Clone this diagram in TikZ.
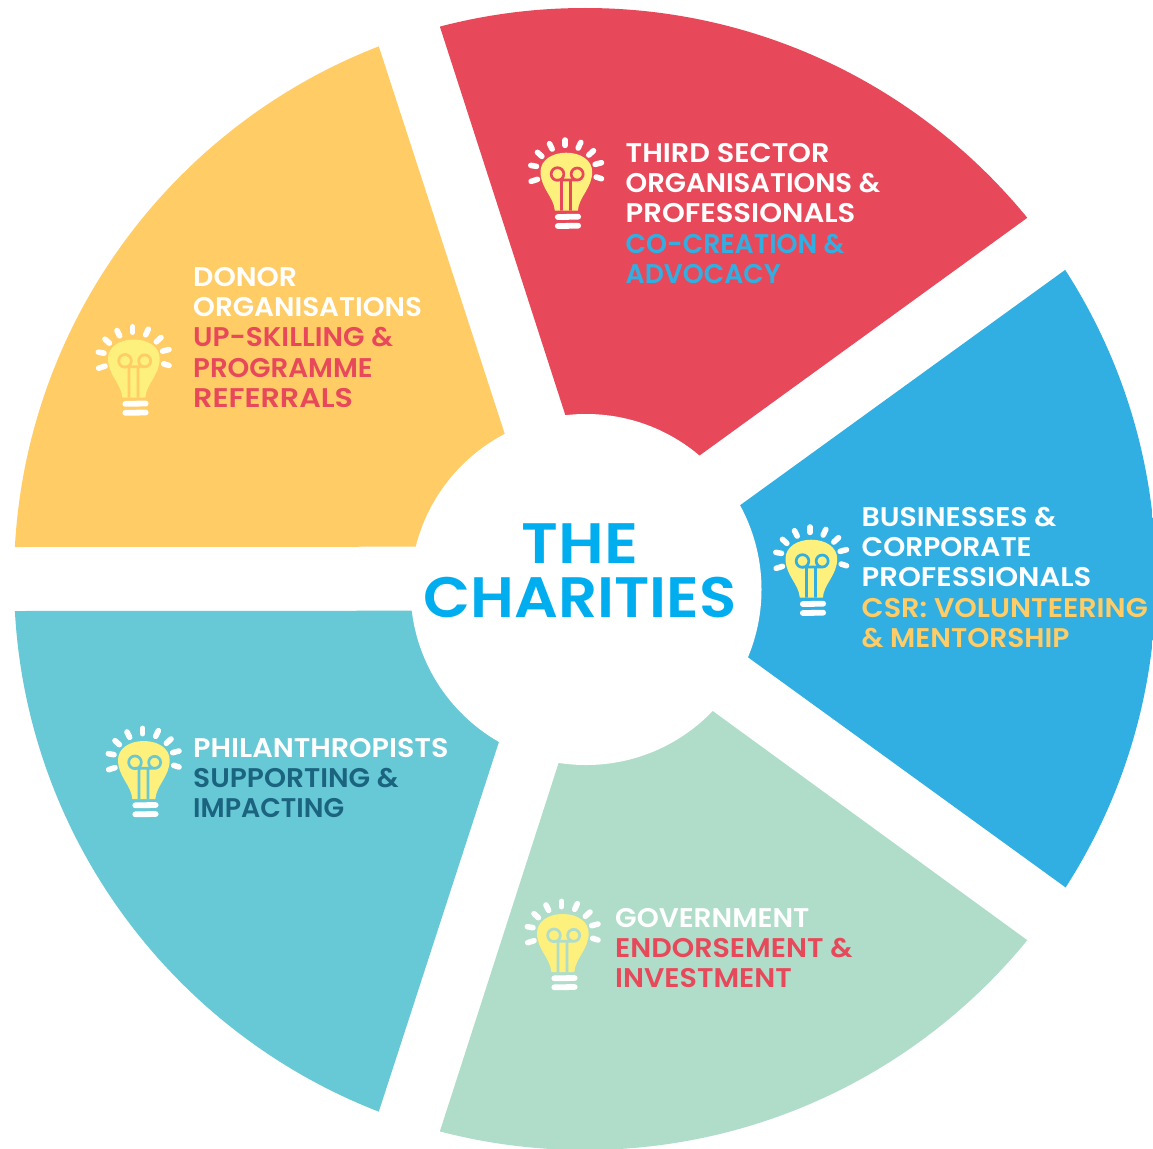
\documentclass[tikz,border=0pt]{standalone}
\usepackage{fontspec}
\usepackage{graphicx}
\newfontfamily\labfont{Poppins SemiBold}[FakeStretch=1.04]
\newfontfamily\midfont{Poppins SemiBold}[FakeStretch=1.04]
\setmainfont{Poppins}
\usetikzlibrary{calc}
\definecolor{cred}{HTML}{E7495A}
\definecolor{cyel}{HTML}{FFCC66}
\definecolor{cblu}{HTML}{32AFE2}
\definecolor{ctea}{HTML}{68C9D6}
\definecolor{cgre}{HTML}{AFDDC9}
\definecolor{cmid}{HTML}{00AEEF}
\definecolor{cdark}{HTML}{1B6480}
\definecolor{clamp}{HTML}{FDF07C}
\newcommand{\fitw}[2]{\scalebox{#1}[1]{#2}}
\tikzset{
  label text/.style={anchor=north west,inner sep=0pt,align=left,text=white,
    font=\labfont\fontsize{27}{30.25}\selectfont},
  mid text/.style={inner sep=0pt,align=center,text=cmid,
    font=\midfont\fontsize{57}{54}\selectfont},
  ray/.style={white,line width=5.6pt,line cap=round},
  basebar/.style={white,line width=5.8pt,line cap=round},
  pics/bulb/.style={code={
    \begin{scope}[x=.3333pt,y=-.3333pt,shift={(-150,-140)}]
      \draw[ray] (149,30)--(149,46);
      \draw[ray] (102,41)--(110,57);
      \draw[ray] (66,67)--(79,79);
      \draw[ray] (46,106)--(63,109);
      \draw[ray] (47,154)--(66,148);
      \draw[ray] (196,37)--(188,54);
      \draw[ray] (234,62)--(220,75);
      \draw[ray] (258,98)--(239,103);
      \draw[ray] (258,146)--(242,141);
      \fill[clamp] (118,242) .. controls (115,200) and (75,175) .. (75,125)
        .. controls (75,90) and (110,68) .. (152,68)
        .. controls (195,68) and (230,90) .. (230,125)
        .. controls (230,175) and (190,200) .. (187,242) -- cycle;
      \draw[#1,line width=2.7pt] (126,132) circle[radius=19] (185,132) circle[radius=18]
        (126,150)--(185,150) (138,242)--(138,150) (165,242)--(165,150);
      \draw[basebar] (127,261)--(188,260);
      \draw[basebar] (127,288)--(188,287);
    \end{scope}
  }}
}
\begin{document}
\begin{tikzpicture}[x=1pt,y=-1pt]
\useasboundingbox (0,0) rectangle (1153,1148);
\fill[white] (0,0) rectangle (1153,1148);
\begin{scope}
  \clip (585,579) circle[radius=571];
  \fill[cred] (565.3,415) -- ($(565.3,415)!1.1!(440,27)$) -- (882,-334) -- ($(699.3,455.7)!1.1!(1027,218)$) -- (699.3,455.7) -- cycle;
  \fill[cblu] (740,505.3) -- ($(740,505.3)!1.1!(1065,270)$) -- (1545,578) -- ($(748,657.3)!1.1!(1065,887)$) -- (748,657.3) -- cycle;
  \fill[cgre] (712.7,711) -- ($(712.7,711)!1.1!(1027,940)$) -- (882,1492) -- ($(558.7,762.7)!1.1!(440,1131)$) -- (558.7,762.7) -- cycle;
  \fill[ctea] (499,741.7) -- ($(499,741.7)!1.1!(379,1111)$) -- (-191,1143) -- ($(412,610.7)!1.1!(15,611)$) -- (412,610.7) -- cycle;
  \fill[cyel] (415.7,546.7) -- ($(415.7,546.7)!1.1!(15,547)$) -- (-191,15) -- ($(504.7,433.7)!1.1!(379,47)$) -- (504.7,433.7) -- cycle;
\end{scope}
\fill[white] (586,589.5) circle[radius=175.5];

\pic at (565.5,176.7) {bulb=cred};
\pic at (810.5,563.7) {bulb=cblu};
\pic at (562,938) {bulb=cgre};
\pic at (143,765) {bulb=ctea};
\pic at (133,363.5) {bulb=cyel};

\node[mid text] (centre) at (580,571) {\fitw{1.078}{THE}\\\fitw{1.032}{CHARITIES}};
\node[label text] (third) at (625.5,143) {\fitw{1.025}{THIRD SECTOR}\\\fitw{.98}{ORGANISATIONS \&}\\\fitw{1.036}{PROFESSIONALS}\\\fitw{.952}{\textcolor{cblu}{CO-CREATION \&}}\\\fitw{.95}{\textcolor{cblu}{ADVOCACY}}};
\node[label text] (biz) at (861.5,507) {\fitw{1.01}{BUSINESSES \&}\\CORPORATE\\\fitw{1.036}{PROFESSIONALS}\\\fitw{1.022}{\textcolor{cyel}{CSR: VOLUNTEERING}}\\\textcolor{cyel}{\& MENTORSHIP}};
\node[label text] (gov) at (615,908) {GOVERNMENT\\\fitw{1.017}{\textcolor{cred}{ENDORSEMENT \&}}\\\fitw{1.017}{\textcolor{cred}{INVESTMENT}}};
\node[label text] (phil) at (193,738) {\fitw{1.02}{PHILANTHROPISTS}\\\textcolor{cdark}{SUPPORTING \&}\\\fitw{.956}{\textcolor{cdark}{IMPACTING}}};
\node[label text] (donor) at (193,267) {\fitw{1.01}{DONOR}\\\fitw{.99}{ORGANISATIONS}\\\fitw{.995}{\textcolor{cred}{UP-SKILLING \&}}\\\fitw{.985}{\textcolor{cred}{PROGRAMME}}\\\fitw{1.074}{\textcolor{cred}{REFERRALS}}};
\end{tikzpicture}
\end{document}
